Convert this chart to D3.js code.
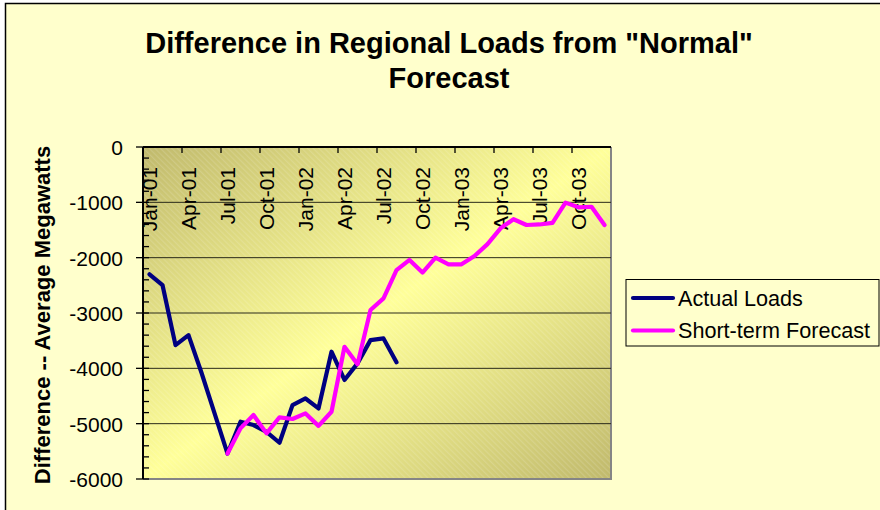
<!DOCTYPE html>
<html>
<head>
<meta charset="utf-8">
<script src="https://cdn.jsdelivr.net/npm/d3@7"></script>
<style>
  body { margin: 0; background: #fff; }
  text { font-family: Arial, "Liberation Sans", sans-serif; fill: #000; }
</style>
</head>
<body>
<svg id="chart" width="880" height="510"></svg>
<script>
"use strict";

// months on the category axis, Jan-01 .. Dec-03
var months = ["Jan-01","Feb-01","Mar-01","Apr-01","May-01","Jun-01","Jul-01","Aug-01","Sep-01","Oct-01","Nov-01","Dec-01",
              "Jan-02","Feb-02","Mar-02","Apr-02","May-02","Jun-02","Jul-02","Aug-02","Sep-02","Oct-02","Nov-02","Dec-02",
              "Jan-03","Feb-03","Mar-03","Apr-03","May-03","Jun-03","Jul-03","Aug-03","Sep-03","Oct-03","Nov-03","Dec-03"];

// actual loads, Jan-01 .. Aug-02
var actual_loads = [-2300, -2495, -3580, -3400, -4080, -4810, -5540, -4965, -5025, -5150,
                    -5345, -4665, -4545, -4725, -3700, -4210, -3910, -3490, -3460, -3890];

// short-term forecast, Jul-01 .. Dec-03
var forecast_start = 6;
var short_term_forecast = [-5540, -5085, -4845, -5175, -4885, -4915, -4815, -5040, -4785, -3610,
                           -3925, -2945, -2735, -2225, -2040, -2270, -2000, -2120, -2120, -1970,
                           -1755, -1470, -1305, -1410, -1400, -1370, -1005, -1090, -1080, -1410];

var y_ticks = [0, -1000, -2000, -3000, -4000, -5000, -6000];
var series_names = ["Actual Loads", "Short-term Forecast"];
var series_colors = ["#000080", "#ff00ff"];

var svg = d3.select('#chart');

// chart area with its frame
svg.append('rect')
    .attr('x', 5.5).attr('y', 3.5)
    .attr('width', 900).attr('height', 530)
    .style('fill', '#ffffcc')
    .style('stroke', '#000')
    .style('stroke-width', 1.5);

var plot = {left: 143, top: 147, right: 611, bottom: 479};

var x = d3.scaleBand()
    .domain(months)
    .range([plot.left, plot.right])
    .padding(0);

var y = d3.scaleLinear()
    .domain([-6000, 0])
    .range([plot.bottom, plot.top]);

// plot area background: diagonal gradient plus faint hatching
var defs = svg.append('defs');
var grad = defs.append('linearGradient')
    .attr('id', 'plotfill')
    .attr('x1', 0).attr('y1', 0).attr('x2', 1).attr('y2', 1);
grad.append('stop').attr('offset', '0%').attr('stop-color', '#c0b96c');
grad.append('stop').attr('offset', '50%').attr('stop-color', '#ffff99');
grad.append('stop').attr('offset', '100%').attr('stop-color', '#c0b96c');

var hatch = defs.append('pattern')
    .attr('id', 'hatch')
    .attr('patternUnits', 'userSpaceOnUse')
    .attr('width', 4).attr('height', 4)
    .attr('patternTransform', 'rotate(-45)');
hatch.append('rect')
    .attr('width', 1.2).attr('height', 4)
    .style('fill', '#fff')
    .style('opacity', 0.14);

svg.append('rect')
    .attr('x', plot.left).attr('y', plot.top)
    .attr('width', plot.right - plot.left)
    .attr('height', plot.bottom - plot.top)
    .style('fill', 'url(#plotfill)');
svg.append('rect')
    .attr('x', plot.left).attr('y', plot.top)
    .attr('width', plot.right - plot.left)
    .attr('height', plot.bottom - plot.top)
    .style('fill', 'url(#hatch)');

// plot area border (right and bottom show grey)
svg.append('path')
    .attr('d', 'M' + plot.right + ',' + plot.top + 'V' + plot.bottom + 'H' + plot.left)
    .style('fill', 'none')
    .style('stroke', '#858585')
    .style('stroke-width', 2);

// horizontal gridlines
svg.append('g')
    .selectAll('line')
    .data(y_ticks.filter(function(d) { return d !== 0 && d !== -6000; }))
    .join('line')
    .attr('x1', plot.left).attr('x2', plot.right)
    .attr('y1', function(d) { return y(d); })
    .attr('y2', function(d) { return y(d); })
    .style('stroke', '#2a2a1a')
    .style('stroke-width', 1);

// y axis: labels from the axis generator, ticks drawn by hand
svg.append('g')
    .attr('transform', 'translate(' + plot.left + ',0)')
    .call(d3.axisLeft(y).tickValues(y_ticks).tickSize(0).tickPadding(20)
        .tickFormat(function(d) { return String(d); }))
    .call(function(g) { g.select('.domain').remove(); })
    .selectAll('text')
    .style('font-size', '21px')
    .style('font-family', 'Arial, "Liberation Sans", sans-serif')
    .attr('dy', '0.36em');

svg.append('g')
    .selectAll('line')
    .data(d3.range(-6000, 1, 200))
    .join('line')
    .attr('x1', function(d) { return d % 1000 === 0 ? plot.left - 7 : plot.left; })
    .attr('x2', plot.left + 6)
    .attr('y1', function(d) { return y(d); })
    .attr('y2', function(d) { return y(d); })
    .style('stroke', '#000')
    .style('stroke-width', 1.3);

svg.append('line')
    .attr('x1', plot.left).attr('x2', plot.left)
    .attr('y1', plot.top).attr('y2', plot.bottom)
    .style('stroke', '#000')
    .style('stroke-width', 2);

// x axis sits at zero, along the top edge
var label_months = months.filter(function(d, i) { return i % 3 === 0; });

svg.append('g')
    .selectAll('line')
    .data(label_months)
    .join('line')
    .attr('x1', function(d) { return x(d); })
    .attr('x2', function(d) { return x(d); })
    .attr('y1', y(0))
    .attr('y2', y(0) + 6)
    .style('stroke', '#000')
    .style('stroke-width', 1.3);

svg.append('line')
    .attr('x1', plot.left).attr('x2', plot.right)
    .attr('y1', y(0)).attr('y2', y(0))
    .style('stroke', '#000')
    .style('stroke-width', 2);

svg.append('g')
    .selectAll('text')
    .data(label_months)
    .join('text')
    .attr('transform', function(d) {
        return 'translate(' + (x(d) + x.bandwidth() / 2) + ',' + (y(0) + 20) + ') rotate(-90)';
    })
    .attr('text-anchor', 'end')
    .attr('dy', '0.36em')
    .style('font-size', '21px')
    .text(function(d) { return d; });

// the two series
var line = d3.line()
    .defined(function(d) { return d.value != null; })
    .x(function(d) { return x(d.month) + x.bandwidth() / 2; })
    .y(function(d) { return y(d.value); });

var actual_points = actual_loads.map(function(v, i) { return {month: months[i], value: v}; });
var forecast_points = short_term_forecast.map(function(v, i) {
    return {month: months[forecast_start + i], value: v};
});

svg.append('path')
    .datum(actual_points)
    .attr('d', line)
    .style('fill', 'none')
    .style('stroke', series_colors[0])
    .style('stroke-width', 4.2)
    .style('stroke-linejoin', 'round')
    .style('stroke-linecap', 'round');

svg.append('path')
    .datum(forecast_points)
    .attr('d', line)
    .style('fill', 'none')
    .style('stroke', series_colors[1])
    .style('stroke-width', 4.2)
    .style('stroke-linejoin', 'round')
    .style('stroke-linecap', 'round');

// title
var title = svg.append('text')
    .attr('text-anchor', 'middle')
    .style('font-size', '29px')
    .style('font-weight', 'bold');
title.append('tspan').attr('x', 449).attr('y', 53).text('Difference in Regional Loads from "Normal"');
title.append('tspan').attr('x', 449).attr('y', 88).text('Forecast');

// y axis title
svg.append('text')
    .attr('transform', 'translate(50,' + ((plot.top + plot.bottom) / 2 + 2) + ') rotate(-90)')
    .attr('text-anchor', 'middle')
    .style('font-size', '22px')
    .style('font-weight', 'bold')
    .text('Difference -- Average Megawatts');

// legend
var legend = svg.append('g');
legend.append('rect')
    .attr('x', 626).attr('y', 279.5)
    .attr('width', 253).attr('height', 66.5)
    .style('fill', '#ffffcc')
    .style('stroke', '#000')
    .style('stroke-width', 1);

var entries = legend.selectAll('g.entry')
    .data(series_names)
    .join('g')
    .attr('class', 'entry')
    .attr('transform', function(d, i) { return 'translate(0,' + (298 + i * 32.5) + ')'; });

entries.append('line')
    .attr('x1', 633).attr('x2', 673)
    .style('stroke', function(d, i) { return series_colors[i]; })
    .style('stroke-width', 4.2)
    .style('stroke-linecap', 'round');

entries.append('text')
    .attr('x', 678)
    .attr('dy', '0.36em')
    .style('font-size', '21.6px')
    .text(function(d) { return d; });
</script>
</body>
</html>
